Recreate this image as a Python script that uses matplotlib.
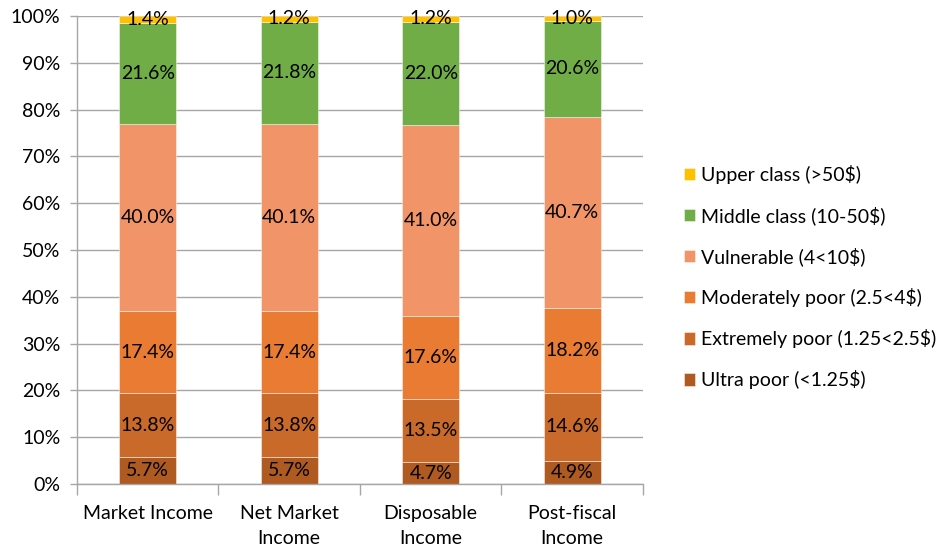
import matplotlib
matplotlib.use("Agg")
import matplotlib.pyplot as plt
import numpy as np

plt.rcParams['font.family'] = ['Lato', 'DejaVu Sans']

categories = ["Market Income", "Net Market\nIncome", "Disposable\nIncome", "Post-fiscal\nIncome"]
series_names = ["Ultra poor (<1.25$)", "Extremely poor (1.25<2.5$)", "Moderately poor (2.5<4$)",
                "Vulnerable (4<10$)", "Middle class (10-50$)", "Upper class (>50$)"]
ultra_poor = [5.7, 5.7, 4.7, 4.9]
extremely_poor = [13.8, 13.8, 13.5, 14.6]
moderately_poor = [17.4, 17.4, 17.6, 18.2]
vulnerable = [40.0, 40.1, 41.0, 40.7]
middle_class = [21.6, 21.8, 22.0, 20.6]
upper_class = [1.4, 1.2, 1.2, 1.0]
colors = ["#AE5A21", "#C96A2A", "#E97B32", "#F19468", "#70AD47", "#FFC000"]

values = [ultra_poor, extremely_poor, moderately_poor, vulnerable, middle_class, upper_class]

fig = plt.figure(figsize=(9.41, 5.5), dpi=100)
ax = fig.add_axes([0.0818, 0.12, 0.6015, 0.851])

x = np.arange(len(categories))
bottom = np.zeros(len(categories))
for name, vals, col in zip(series_names, values, colors):
    vals = np.array(vals)
    ax.bar(x, vals, 0.4, bottom=bottom, color=col, label=name,
           edgecolor=(1, 1, 1, 0.45), linewidth=0.7, zorder=2)
    for xi, b, v in zip(x, bottom, vals):
        ax.text(xi, b + v / 2, f"{v:.1f}%", ha='center', va='center', fontsize=14, zorder=3)
    bottom += vals

ax.set_xlim(-0.5, 3.5)
ax.set_ylim(0, 100)
ax.set_yticks(np.arange(0, 101, 10))
ax.set_yticklabels([f"{t}%" for t in range(0, 101, 10)], fontsize=14)
ax.yaxis.grid(True, color='#A6A6A6', linewidth=1, zorder=0)
ax.set_xticks(x)
ax.set_xticklabels(categories, fontsize=14, linespacing=1.55)
ax.tick_params(axis='x', length=0, pad=15)
ax.set_xticks(np.arange(-0.5, 4, 1), minor=True)
ax.tick_params(axis='x', which='minor', length=8, color='#A6A6A6', width=1)
ax.tick_params(axis='y', length=5, color='#A6A6A6', width=1, pad=7)
for s in ['top', 'right']:
    ax.spines[s].set_visible(False)
for s in ['left', 'bottom']:
    ax.spines[s].set_color('#A6A6A6')
    ax.spines[s].set_linewidth(1)

handles, labels = ax.get_legend_handles_labels()
fig.legend(handles[::-1], labels[::-1], loc='center left', bbox_to_anchor=(0.708, 0.496),
           frameon=False, fontsize=14, handlelength=0.6, handleheight=0.6,
           handletextpad=0.3, labelspacing=1.14)

fig.savefig("out.png", dpi=100)
